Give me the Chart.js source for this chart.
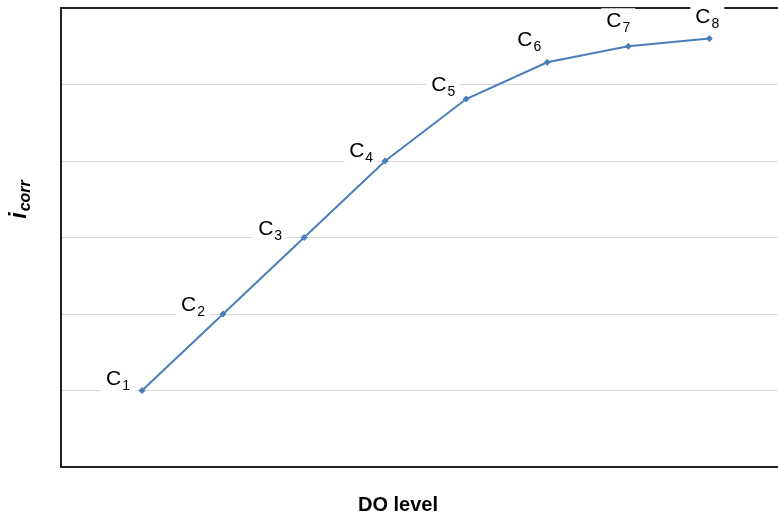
<!DOCTYPE html>
<html>
<head>
<meta charset="utf-8">
<script src="https://cdn.jsdelivr.net/npm/chart.js@4.4.0/dist/chart.umd.min.js"></script>
<style>
  body { margin: 0; background: #fff; overflow: hidden; }
  #wrap { width: 784px; height: 520px; }
</style>
</head>
<body>
<div id="wrap"><canvas id="myChart"></canvas></div>
<script>
// data
var doLevels = [1, 2, 3, 4, 5, 6, 7, 8];
var icorrValues = [1, 2, 3, 4, 4.81, 5.29, 5.5, 5.6];
var pointNames = ['1', '2', '3', '4', '5', '6', '7', '8'];

// where each label sits relative to its point (dx, dy)
var labelOffsets = [[-24, -12], [-30, -9], [-34, -9], [-24, -10], [-23, -14], [-18, -22], [-10, -25], [-2, -22]];

var lineColor = '#4a7ebb';

var pointLabels = {
    id: 'pointLabels',
    afterDatasetsDraw: function(chart) {
        var ctx = chart.ctx;
        var meta = chart.getDatasetMeta(0);
        ctx.save();
        meta.data.forEach(function(pt, i) {
            var cx = pt.x + labelOffsets[i][0];
            var cy = pt.y + labelOffsets[i][1];
            ctx.font = '21px "Liberation Sans", Arial, sans-serif';
            var wC = ctx.measureText('C').width;
            ctx.font = '14px "Liberation Sans", Arial, sans-serif';
            var wS = ctx.measureText(pointNames[i]).width;
            var w = wC + wS + 1;
            ctx.fillStyle = '#fff';
            ctx.fillRect(cx - w / 2 - 5, cy - 13, w + 10, 26);
            ctx.fillStyle = '#000';
            ctx.textBaseline = 'alphabetic';
            ctx.textAlign = 'left';
            ctx.font = '21px "Liberation Sans", Arial, sans-serif';
            ctx.fillText('C', cx - w / 2, cy + 6);
            ctx.font = '14px "Liberation Sans", Arial, sans-serif';
            ctx.fillText(pointNames[i], cx - w / 2 + wC + 1, cy + 11);
        });
        ctx.restore();
    }
};

var axisTitles = {
    id: 'axisTitles',
    afterDraw: function(chart) {
        var ctx = chart.ctx;
        ctx.save();
        ctx.fillStyle = '#000';
        ctx.textBaseline = 'alphabetic';
        ctx.textAlign = 'center';
        ctx.font = 'bold 20px "Liberation Sans", Arial, sans-serif';
        ctx.fillText('DO level', 398, 511);

        // y title: i with subscript corr, rotated
        ctx.translate(26, 200);
        ctx.rotate(-Math.PI / 2);
        ctx.textAlign = 'left';
        ctx.font = 'italic bold 23px "Liberation Sans", Arial, sans-serif';
        var wi = ctx.measureText('i').width;
        ctx.font = 'italic bold 16px "Liberation Sans", Arial, sans-serif';
        var wc = ctx.measureText('corr').width;
        var x0 = -(wi + wc) / 2;
        ctx.font = 'italic bold 23px "Liberation Sans", Arial, sans-serif';
        ctx.fillText('i', x0, 0);
        ctx.font = 'italic bold 16px "Liberation Sans", Arial, sans-serif';
        ctx.fillText('corr', x0 + wi + 1, 4);
        ctx.restore();
    }
};

function generateChart() {
    var ctx = document.getElementById('myChart').getContext('2d');
    var points = doLevels.map(function(x, i) { return { x: x, y: icorrValues[i] }; });

    window.myLineChart = new Chart(ctx, {
        type: 'line',
        data: {
            datasets: [{
                data: points,
                borderColor: lineColor,
                backgroundColor: lineColor,
                borderWidth: 2,
                pointStyle: 'rectRot',
                pointRadius: 3,
                pointBorderWidth: 1,
                tension: 0,
                fill: false
            }]
        },
        options: {
            animation: false,
            responsive: true,
            maintainAspectRatio: false,
            layout: { padding: { left: 61, top: 8, bottom: 53, right: 0 } },
            plugins: {
                legend: { display: false },
                tooltip: { enabled: false }
            },
            scales: {
                x: {
                    type: 'linear',
                    min: 0,
                    max: 8.86,
                    ticks: { display: false },
                    grid: { display: false, drawTicks: false },
                    border: { display: true, color: '#222', width: 2 }
                },
                y: {
                    min: 0,
                    max: 6,
                    ticks: { display: false, stepSize: 1 },
                    grid: {
                        drawTicks: false,
                        color: function(c) { return c.tick.value === 6 ? '#222' : '#d9d9d9'; },
                        lineWidth: function(c) { return c.tick.value === 6 ? 2 : 1; }
                    },
                    border: { display: true, color: '#222', width: 2 }
                }
            }
        },
        plugins: [pointLabels, axisTitles]
    });
}

document.addEventListener('DOMContentLoaded', generateChart);
</script>
</body>
</html>
